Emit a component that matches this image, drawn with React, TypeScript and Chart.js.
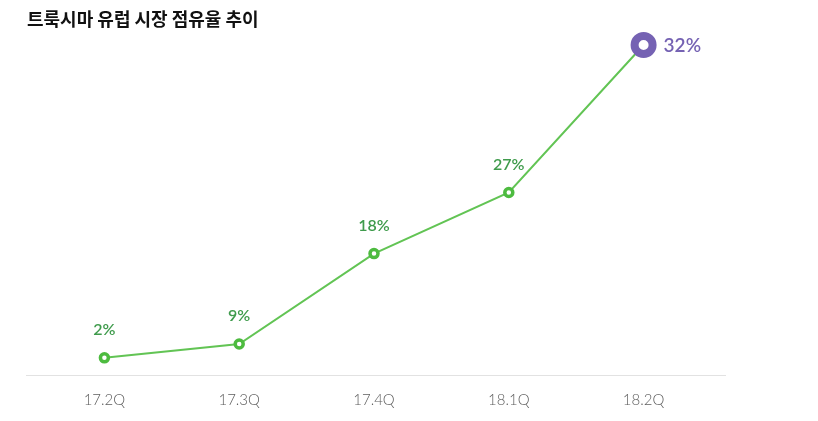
import React, { useEffect, useRef } from "react";
import { Chart, registerables } from "chart.js";

Chart.register(...registerables);

const title = "트룩시마 유럽 시장 점유율 추이";
const quarters = ["17.2Q", "17.3Q", "17.4Q", "18.1Q", "18.2Q"];
const shareLabels = ["2%", "9%", "18%", "27%", "32%"];
// vertical positions of the markers on a 0–100 scale
const plotValues = [5.2, 9.4, 36.8, 55.3, 100];

const GREEN_LINE = "#62c454";
const GREEN_TEXT = "#3f9b4c";
const PURPLE = "#7562b3";
const FONT = "Lato, 'Open Sans', sans-serif";

const baselinePlugin = {
  id: "baseline",
  beforeDatasetsDraw(chart: any) {
    const { ctx, chartArea } = chart;
    ctx.save();
    ctx.strokeStyle = "#e2e2e2";
    ctx.lineWidth = 1;
    ctx.beginPath();
    ctx.moveTo(26, Math.round(chartArea.bottom) + 0.5);
    ctx.lineTo(726, Math.round(chartArea.bottom) + 0.5);
    ctx.stroke();
    ctx.restore();
  },
};

const labelPlugin = {
  id: "valueLabels",
  afterDatasetsDraw(chart: any) {
    const { ctx } = chart;
    const meta = chart.getDatasetMeta(0);
    ctx.save();
    meta.data.forEach((pt: any, i: number) => {
      const last = i === shareLabels.length - 1;
      if (last) {
        ctx.fillStyle = PURPLE;
        ctx.font = `600 19px ${FONT}`;
        ctx.textAlign = "left";
        ctx.textBaseline = "middle";
        ctx.fillText(shareLabels[i], pt.x + 20, pt.y + 1);
      } else {
        ctx.fillStyle = GREEN_TEXT;
        ctx.font = `600 16px ${FONT}`;
        ctx.textAlign = "center";
        ctx.textBaseline = "middle";
        ctx.fillText(shareLabels[i], pt.x, pt.y - 28);
      }
    });
    ctx.restore();
  },
};

export default function App() {
  const ref = useRef<HTMLCanvasElement>(null);
  useEffect(() => {
    if (!ref.current) return;
    const n = plotValues.length;
    const chart = new Chart(ref.current, {
      type: "line",
      data: {
        labels: quarters,
        datasets: [
          {
            data: plotValues,
            borderColor: GREEN_LINE,
            borderWidth: 2,
            tension: 0,
            clip: false as any,
            pointRadius: plotValues.map((_, i) => (i === n - 1 ? 9 : 4)),
            pointBorderWidth: plotValues.map((_, i) => (i === n - 1 ? 8 : 3.5)),
            pointBackgroundColor: "#ffffff",
            pointBorderColor: plotValues.map((_, i) => (i === n - 1 ? PURPLE : "#4dbb3f")),
            pointHoverRadius: plotValues.map((_, i) => (i === n - 1 ? 9 : 4)),
          },
        ],
      },
      options: {
        animation: false,
        responsive: false,
        maintainAspectRatio: false,
        layout: { padding: { left: 37, right: 107, top: 45, bottom: -4 } },
        plugins: { legend: { display: false }, tooltip: { enabled: false }, title: { display: false } },
        scales: {
          x: {
            offset: true,
            grid: { display: false, drawTicks: false },
            border: { display: false },
            ticks: { color: "#5e5e5e", font: { family: FONT, size: 15, weight: 300 as any }, padding: 16 },
          },
          y: { display: false, min: 0, max: 100 },
        },
      },
      plugins: [baselinePlugin, labelPlugin],
    });
    return () => chart.destroy();
  }, []);
  return (
    <div style={{ position: "fixed", left: 0, top: 0, width: 818, height: 421, background: "#fff" }}>
      <div
        style={{
          position: "absolute",
          left: 27,
          top: 5,
          fontFamily: "'Noto Sans CJK KR', sans-serif",
          fontWeight: 700,
          fontSize: 18,
          lineHeight: "26px",
          color: "#111",
          whiteSpace: "nowrap",
        }}
      >
        {title}
      </div>
      <canvas ref={ref} width={818} height={421} style={{ display: "block", width: 818, height: 421 }} />
    </div>
  );
}
